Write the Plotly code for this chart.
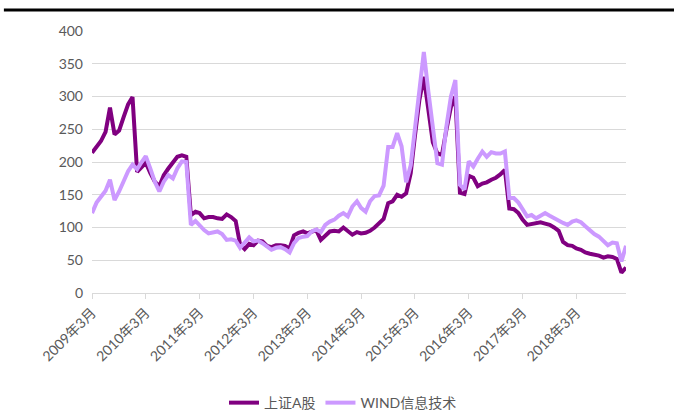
import pandas as pd
import plotly.graph_objects as go

# Monthly observations, March 2009 to February 2019
months = pd.date_range("2009-03-01", periods=120, freq="MS").strftime("%Y-%m-%d").tolist()

sse_a = [
    214, 222, 232, 246, 283, 242, 248, 268, 288, 299,
    185, 192, 199, 183, 170, 163, 180, 190, 199, 208,
    210, 208, 119, 124, 122, 114, 116, 116, 114, 113,
    120, 116, 110, 74, 67, 75, 73, 80, 79, 72,
    70, 73, 73, 72, 68, 88, 92, 94, 91, 94,
    96, 81, 87, 94, 95, 94, 100, 94, 89, 93,
    91, 92, 95, 100, 106, 113, 137, 140, 150, 147,
    152, 183, 239, 295, 330, 275, 230, 213, 211, 249,
    284, 300, 153, 151, 179, 176, 163, 167, 169, 173,
    176, 181, 188, 129, 128, 122, 112, 104, 105, 106,
    108, 106, 104, 100, 95, 78, 73, 72, 68, 66,
    62, 60, 59, 57, 54, 56, 55, 52, 31, 39,
]

wind_it = [
    122, 138, 147, 156, 173, 142, 155, 170, 186, 196,
    189, 200, 209, 190, 170, 155, 170, 180, 175, 190,
    201, 200, 104, 110, 103, 96, 91, 92, 94, 90,
    81, 82, 80, 69, 76, 85, 79, 80, 76, 70,
    66, 69, 70, 67, 62, 76, 84, 86, 87, 94,
    97, 93, 104, 109, 112, 118, 122, 117, 132, 140,
    130, 124, 140, 148, 149, 164, 223, 223, 244, 224,
    169, 195, 254, 310, 368, 307, 254, 198, 196, 254,
    300, 325, 165, 158, 201, 193, 205, 216, 208, 215,
    213, 213, 216, 145, 145, 138, 128, 117, 119, 114,
    118, 122, 118, 114, 110, 107, 104, 109, 111, 108,
    102, 95, 90, 86, 79, 73, 77, 76, 48, 72,
]

tick_vals = [f"{y}-03-01" for y in range(2009, 2019)]
tick_text = [f"{y}年3月" for y in range(2009, 2019)]
y_ticks = [0, 50, 100, 150, 200, 250, 300, 350, 400]

FONT = "Lato, Noto Sans CJK SC, sans-serif"
GREY = "#595959"
GRID = "#D9D9D9"

fig = go.Figure()
fig.add_trace(go.Scatter(
    x=months, y=sse_a, name="上证A股", mode="lines",
    line=dict(color="#800080", width=4),
))
fig.add_trace(go.Scatter(
    x=months, y=wind_it, name="WIND信息技术", mode="lines",
    line=dict(color="#CC99FF", width=4),
))

fig.update_layout(
    width=674, height=412,
    margin=dict(l=92, r=48, t=31, b=119, autoexpand=False),
    paper_bgcolor="white", plot_bgcolor="white",
    font=dict(family=FONT, size=13, color=GREY),
    showlegend=True,
    legend=dict(
        orientation="h", x=0.47, xanchor="center",
        y=-0.42, yanchor="middle",
        font=dict(family=FONT, size=14, color=GREY),
        itemwidth=30, tracegroupgap=0,
    ),
    shapes=[dict(
        type="line", xref="paper", yref="paper",
        x0=-0.165, x1=1.1, y0=1.08, y1=1.08,
        line=dict(color="black", width=3),
    )],
)

fig.update_xaxes(
    type="date", range=[months[0], months[-1]],
    tickvals=tick_vals, ticktext=tick_text, tickangle=-45,
    showgrid=False, showline=True, linecolor=GRID, linewidth=1,
    ticks="outside", ticklen=5, tickcolor=GRID, tickwidth=1,
    tickfont=dict(family=FONT, size=14, color=GREY),
    zeroline=False,
)
fig.update_yaxes(
    range=[0, 400], tickvals=y_ticks,
    showgrid=True, gridcolor=GRID, gridwidth=1,
    showline=False, zeroline=False, ticks="",
    ticklabelstandoff=8,
    tickfont=dict(family=FONT, size=14, color=GREY),
)

fig.write_html("out.html")
